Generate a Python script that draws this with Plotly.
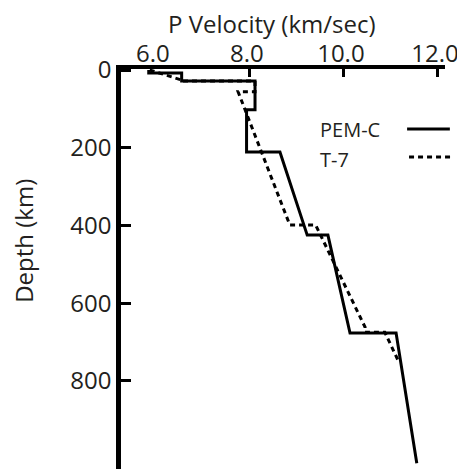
import plotly.graph_objects as go

# PEM-C model (solid)
pem_c_velocity = [5.85, 5.85, 6.55, 6.55, 8.11, 8.11, 7.93, 7.93, 8.64, 9.22, 9.66, 10.13, 11.11, 11.55]
pem_c_depth = [0, 8, 8, 28, 28, 102, 102, 211, 211, 425, 425, 677, 677, 1012]

# T-7 model (dashed)
t7_velocity = [5.87, 6.53, 6.53, 8.11, 8.11, 7.75, 8.85, 9.40, 10.45, 10.45, 10.87, 11.15]
t7_depth = [0, 25, 28, 28, 56, 56, 399, 399, 662, 675, 675, 747]

x_ticks = [6, 8, 10, 12]
x_ticktext = ["6.0", "8.0", "10.0", "12.0"]
x_marked = [8, 10, 12]
y_ticks = [0, 200, 400, 600, 800]

FONT = "Open Sans"
TXT = "#231f20"

fig = go.Figure()

fig.add_trace(go.Scatter(
    x=pem_c_velocity, y=pem_c_depth, mode="lines", name="PEM-C",
    line=dict(color="black", width=3), showlegend=False
))
fig.add_trace(go.Scatter(
    x=t7_velocity, y=t7_depth, mode="lines", name="T-7",
    line=dict(color="black", width=3, dash="5px,4px"), showlegend=False
))

# legend drawn by hand: label on the left, line sample on the right
fig.add_annotation(x=0.608, y=0.8475, xref="paper", yref="paper", text="PEM-C",
                   showarrow=False, xanchor="left", yanchor="middle",
                   font=dict(family=FONT, size=20, color=TXT))
fig.add_annotation(x=0.608, y=0.775, xref="paper", yref="paper", text="T-7",
                   showarrow=False, xanchor="left", yanchor="middle",
                   font=dict(family=FONT, size=20, color=TXT))
fig.add_shape(type="line", xref="paper", yref="paper", x0=0.883, x1=1.015,
              y0=0.85, y1=0.85, line=dict(color="black", width=3))
fig.add_shape(type="line", xref="paper", yref="paper", x0=0.889, x1=1.025,
              y0=0.78, y1=0.78, line=dict(color="black", width=3, dash="5px,4px"))

fig.add_annotation(x=0.466, y=1.115, xref="paper", yref="paper",
                   text="P Velocity (km/sec)", showarrow=False,
                   xanchor="center", yanchor="middle",
                   font=dict(family=FONT, size=24, color=TXT))
fig.add_annotation(x=-0.303, y=0.57, xref="paper", yref="paper",
                   text="Depth (km)", showarrow=False, textangle=-90,
                   xanchor="center", yanchor="middle",
                   font=dict(family=FONT, size=24, color=TXT))

fig.update_layout(
    width=465, height=473,
    margin=dict(l=113, r=28, t=61, b=12),
    plot_bgcolor="white", paper_bgcolor="white",
    font=dict(family=FONT, size=24, color=TXT),
    xaxis=dict(
        side="top", range=[5.26, 12.15], automargin=False,
        tickmode="array", tickvals=x_ticks, ticktext=x_ticktext, ticks="",
        ticklabelstandoff=-6, ticklabelshift=-3,
        showline=True, linewidth=3.5, linecolor="black",
        showgrid=False, zeroline=False,
        minor=dict(tickmode="array", tickvals=x_marked, ticks="inside",
                   ticklen=8, tickwidth=2.5, tickcolor="black", showgrid=False),
    ),
    yaxis=dict(
        range=[1027, -2.6], automargin=False,
        tickmode="array", tickvals=y_ticks, ticks="inside",
        ticklen=10, tickwidth=2.5, tickcolor="black",
        showline=True, linewidth=4.5, linecolor="black",
        showgrid=False, zeroline=False,
    ),
)

fig.write_html("out.html")
